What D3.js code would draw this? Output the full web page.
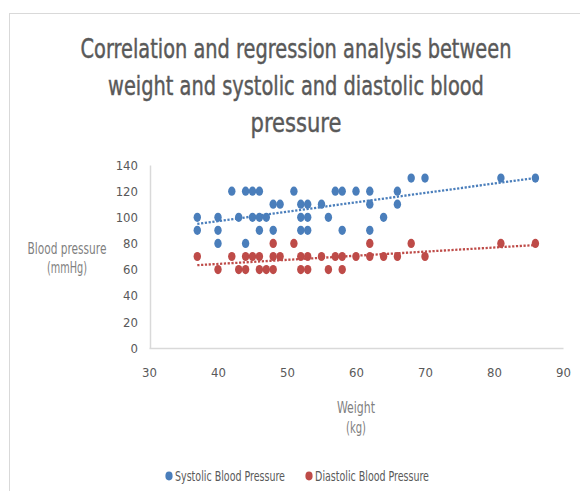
<!DOCTYPE html>
<html>
<head>
<meta charset="utf-8">
<script src="https://cdn.jsdelivr.net/npm/d3@7"></script>
<style>
  html, body { margin: 0; padding: 0; background: #fff; }
  svg { display: block; }
  text { font-family: "DejaVu Sans Condensed", "Liberation Sans Narrow", "Liberation Sans", sans-serif; }
</style>
</head>
<body>
<svg id="chart" width="580" height="491"></svg>
<script>
// ---------- data ----------
const titleLines = ["Correlation and regression analysis between",
                    "weight and systolic and diastolic blood",
                    "pressure"];
const xTicks = [30, 40, 50, 60, 70, 80, 90];
const yTicks = [0, 20, 40, 60, 80, 100, 120, 140];
const seriesNames = ["Systolic Blood Pressure", "Diastolic Blood Pressure"];

const systolicWeight = [68, 70, 81, 86,
                        42, 44, 45, 46, 51, 57, 58, 60, 62, 66,
                        48, 49, 52, 53, 55, 62, 66,
                        37, 40, 43, 45, 46, 47, 52, 53, 56, 64,
                        37, 40, 46, 48, 52, 53, 58, 62,
                        40, 44];
const systolicBP = [130, 130, 130, 130,
                    120, 120, 120, 120, 120, 120, 120, 120, 120, 120,
                    110, 110, 110, 110, 110, 110, 110,
                    100, 100, 100, 100, 100, 100, 100, 100, 100, 100,
                    90, 90, 90, 90, 90, 90, 90, 90,
                    80, 80];

const diastolicWeight = [48, 51, 62, 68, 81, 86,
                         37, 42, 44, 45, 46, 48, 49, 52, 53, 55, 57, 58, 60, 62, 64, 66, 70,
                         40, 43, 44, 46, 47, 48, 52, 53, 56, 58];
const diastolicBP = [80, 80, 80, 80, 80, 80,
                     70, 70, 70, 70, 70, 70, 70, 70, 70, 70, 70, 70, 70, 70, 70, 70, 70,
                     60, 60, 60, 60, 60, 60, 60, 60, 60, 60];

const colors = ["#4A7EBB", "#BE4B48"];

// ---------- layout ----------
const svg = d3.select("#chart");
const x = d3.scaleLinear().domain([30, 90]).range([149, 563]);
const y = d3.scaleLinear().domain([0, 140]).range([348, 165]);

// outer chart border
svg.append("rect").attr("x", 9.5).attr("y", 13.5).attr("width", 600).attr("height", 520)
  .attr("fill", "#fff").attr("stroke", "#d9d9d9").attr("stroke-width", 1);

// helper: tall, narrow text (fit natural width to target, then stretch vertically)
function tallText(str, cx, baseline, targetW, capH, color, cls) {
  const t = svg.append("text").attr("class", cls).attr("font-size", 20)
    .attr("text-anchor", "middle").attr("fill", color).text(str);
  const w = t.node().getComputedTextLength();
  const fs = 20 * targetW / w;
  const sy = capH / (0.729 * fs);
  t.attr("font-size", fs)
   .attr("transform", `translate(${cx},${baseline}) scale(1,${sy})`)
   .attr("stroke", color).attr("stroke-width", 0.35);
  return t;
}

// title
const titleBase = [58, 95, 132];
const titleW = [431, 376, 91];
titleLines.forEach((s, i) => tallText(s, 296, titleBase[i], titleW[i], 20, "#595959", "title"));

// axes
const gx = svg.append("g").attr("transform", "translate(0,348)")
  .call(d3.axisBottom(x).tickValues(xTicks).tickSize(0).tickPadding(20));
gx.select(".domain").attr("stroke", "#d9d9d9").attr("stroke-width", 1.5);
gx.selectAll("text").attr("font-size", 13).attr("fill", "#595959")
  .attr("font-family", "\"DejaVu Sans Condensed\", sans-serif");

const gy = svg.append("g").attr("transform", "translate(150,0)")
  .call(d3.axisLeft(y).tickValues(yTicks).tickSize(0).tickPadding(12));
gy.select(".domain").attr("stroke", "#d9d9d9").attr("stroke-width", 1.5);
gy.selectAll("text").attr("font-size", 13).attr("fill", "#595959")
  .attr("font-family", "\"DejaVu Sans Condensed\", sans-serif");

// axis titles
tallText("Weight", 356, 413, 38, 11, "#7f7f7f", "axt").attr("stroke-width", 0);
tallText("(kg)", 356, 433, 20, 11, "#7f7f7f", "axt").attr("stroke-width", 0);
tallText("Blood pressure", 67, 254, 79, 11, "#7f7f7f", "axt").attr("stroke-width", 0);
tallText("(mmHg)", 67, 273, 40, 11, "#7f7f7f", "axt").attr("stroke-width", 0);

// series
const series = [
  {xs: systolicWeight, ys: systolicBP, color: colors[0]},
  {xs: diastolicWeight, ys: diastolicBP, color: colors[1]}
];

function fit(xs, ys) {
  const mx = d3.mean(xs), my = d3.mean(ys);
  let sxy = 0, sxx = 0;
  xs.forEach((v, i) => { sxy += (v - mx) * (ys[i] - my); sxx += (v - mx) * (v - mx); });
  const b = sxy / sxx, a = my - b * mx;
  const x0 = d3.min(xs), x1 = d3.max(xs);
  return [[x0, a + b * x0], [x1, a + b * x1]];
}

series.forEach(s => {
  const pts = s.xs.map((v, i) => [v, s.ys[i]]);
  svg.append("g").selectAll("ellipse").data(pts).enter().append("ellipse")
    .attr("cx", d => x(d[0])).attr("cy", d => y(d[1]))
    .attr("rx", 3.7).attr("ry", 4.6)
    .attr("fill", s.color);
});
series.forEach(s => {
  const line = d3.line().x(d => x(d[0])).y(d => y(d[1]));
  svg.append("path").attr("d", line(fit(s.xs, s.ys)))
    .attr("fill", "none").attr("stroke", s.color).attr("stroke-width", 2.3)
    .attr("stroke-dasharray", "2.2 1.6");
});

// legend
const legX = [169, 309], legW = [110, 114];
seriesNames.forEach((n, i) => {
  svg.append("ellipse").attr("cx", legX[i]).attr("cy", 476).attr("rx", 3.6).attr("ry", 4.4)
    .attr("fill", colors[i]);
  tallText(n, legX[i] + 6 + legW[i] / 2, 481, legW[i], 10, "#595959", "leg").attr("stroke-width", 0);
});
</script>
</body>
</html>
